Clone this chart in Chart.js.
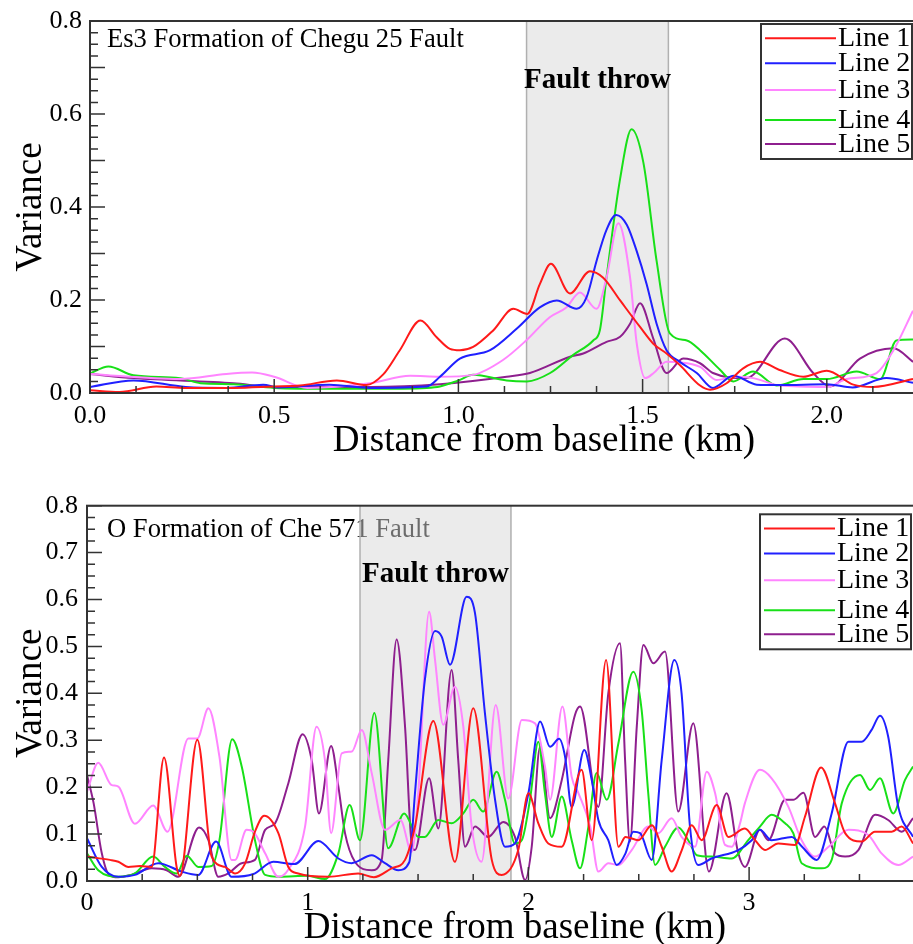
<!DOCTYPE html>
<html>
<head>
<meta charset="utf-8">
<script src="https://cdn.jsdelivr.net/npm/chart.js@4.4.0/dist/chart.umd.min.js"></script>
<style>
  html, body { margin: 0; padding: 0; background: #fff; overflow: hidden; width: 913px; height: 944px; }
  canvas { position: absolute; left: 0; }
  #esChart { top: 0; }
  #oChart { top: 470px; }
</style>
</head>
<body>
<canvas id="esChart" width="998" height="470"></canvas>
<canvas id="oChart" width="943" height="480"></canvas>
<script>
const lineNames = ['Line 1', 'Line 2', 'Line 3', 'Line 4', 'Line 5'];
const lineColors = ['#ff1a1a', '#2020ff', '#ff85ff', '#18e018', '#8e1f8e'];

// Es3 Formation of Chegu 25 Fault, [distance km, variance]
const esLine1 = [[0,.006],[.08,.002],[.18,.014],[.26,.011],[.39,.011],[.5,.014],[.57,.016],[.67,.027],[.75,.017],[.796,.04],[.841,.092],[.897,.156],[.941,.12],[.977,.095],[1.004,.092],[1.04,.099],[1.095,.135],[1.149,.181],[1.187,.170],[1.221,.234],[1.251,.278],[1.303,.214],[1.357,.262],[1.393,.248],[1.439,.199],[1.493,.142],[1.529,.106],[1.565,.085],[1.601,.06],[1.656,.016],[1.683,.007],[1.728,.021],[1.773,.053],[1.819,.067],[1.87,.05],[1.936,.035],[2.0,.048],[2.072,.018],[2.126,.013],[2.234,.030]];
const esLine2 = [[0,.013],[.118,.027],[.26,.013],[.37,.011],[.47,.018],[.51,.012],[.65,.018],[.76,.011],[.914,.014],[.95,.035],[1.004,.074],[1.086,.092],[1.158,.138],[1.221,.184],[1.267,.199],[1.321,.181],[1.348,.206],[1.375,.284],[1.402,.351],[1.428,.383],[1.457,.362],[1.484,.305],[1.511,.234],[1.538,.149],[1.565,.092],[1.601,.067],[1.647,.043],[1.691,.011],[1.746,.037],[1.81,.018],[1.873,.017],[2.0,.019],[2.07,.012],[2.162,.032],[2.234,.022]];
const esLine3 = [[0,.041],[.244,.030],[.37,.041],[.44,.044],[.5,.035],[.59,.011],[.76,.021],[.869,.037],[.95,.035],[1.04,.039],[1.121,.071],[1.184,.113],[1.248,.163],[1.293,.184],[1.33,.216],[1.375,.181],[1.402,.248],[1.434,.365],[1.466,.248],[1.484,.107],[1.507,.032],[1.53,.043],[1.565,.067],[1.601,.066],[1.656,.056],[1.701,.028],[1.75,.035],[1.8,.032],[1.873,.016],[2.0,.013],[2.054,.030],[2.135,.043],[2.181,.092],[2.234,.177]];
const esLine4 = [[0,.042],[.05,.057],[.118,.038],[.244,.032],[.30,.021],[.39,.019],[.50,.011],[.66,.009],[.76,.009],[.914,.011],[.95,.014],[1.0,.027],[1.04,.039],[1.131,.027],[1.186,.025],[1.249,.043],[1.312,.082],[1.366,.113],[1.384,.135],[1.402,.248],[1.439,.461],[1.47,.567],[1.502,.496],[1.538,.284],[1.574,.128],[1.62,.113],[1.656,.092],[1.71,.050],[1.746,.025],[1.8,.046],[1.864,.016],[1.937,.030],[2.0,.030],[2.081,.046],[2.145,.030],[2.189,.113],[2.234,.115]];
const esLine5 = [[0,.041],[.118,.032],[.39,.021],[.5,.013],[.76,.013],[.95,.019],[1.131,.035],[1.194,.043],[1.303,.078],[1.339,.085],[1.402,.110],[1.439,.121],[1.466,.149],[1.493,.193],[1.529,.117],[1.565,.043],[1.61,.074],[1.656,.064],[1.691,.043],[1.782,.032],[1.886,.117],[1.963,.043],[2.009,.014],[2.09,.074],[2.181,.096],[2.234,.067]];

// O Formation of Che 571 Fault, [distance km, variance]
const oLine1 = [[0,.052],[.104,.045],[.142,.041],[.187,.030],[.24,.032],[.293,.030],[.349,.263],[.406,.030],[.421,.011],[.5,.301],[.565,.052],[.625,.030],[.671,.016],[.716,.037],[.761,.105],[.803,.139],[.867,.102],[.912,.030],[.957,.016],[1.093,.009],[1.229,.016],[1.3,.008],[1.38,.027],[1.441,.045],[1.486,.116],[1.569,.341],[1.667,.041],[1.75,.368],[1.834,.045],[1.879,.013],[1.954,.066],[2.0,.187],[2.045,.123],[2.09,.080],[2.151,.073],[2.241,.237],[2.287,.087],[2.352,.471],[2.408,.073],[2.44,.094],[2.498,.087],[2.559,.119],[2.604,.073],[2.649,.020],[2.695,.066],[2.74,.119],[2.785,.087],[2.853,.162],[2.906,.094],[2.981,.112],[3.027,.087],[3.072,.066],[3.132,.080],[3.208,.077],[3.253,.137],[3.326,.242],[3.389,.166],[3.435,.102],[3.51,.084],[3.57,.105],[3.646,.105],[3.691,.116],[3.743,.080]];
const oLine2 = [[0,.091],[.067,.030],[.142,.009],[.217,.013],[.323,.038],[.429,.020],[.504,.013],[.585,.084],[.655,.009],[.754,.015],[.844,.041],[.94,.036],[1.048,.085],[1.139,.048],[1.199,.038],[1.29,.055],[1.35,.038],[1.411,.023],[1.46,.040],[1.486,.187],[1.531,.429],[1.577,.533],[1.607,.521],[1.645,.461],[1.72,.606],[1.758,.571],[1.803,.358],[1.849,.173],[1.894,.073],[1.939,.080],[2.0,.187],[2.053,.340],[2.098,.286],[2.139,.303],[2.166,.265],[2.196,.158],[2.253,.279],[2.287,.215],[2.317,.130],[2.362,.087],[2.40,.034],[2.44,.059],[2.475,.105],[2.506,.102],[2.559,.045],[2.604,.258],[2.661,.471],[2.694,.400],[2.732,.116],[2.77,.034],[2.83,.048],[2.951,.066],[3.012,.087],[3.049,.109],[3.102,.087],[3.193,.094],[3.24,.073],[3.306,.045],[3.374,.144],[3.45,.297],[3.51,.297],[3.555,.322],[3.593,.352],[3.63,.308],[3.676,.158],[3.743,.094]];
const oLine3 = [[0,.19],[.051,.252],[.11,.205],[.142,.201],[.217,.122],[.3,.161],[.365,.105],[.459,.304],[.50,.304],[.55,.368],[.60,.265],[.655,.045],[.671,.045],[.723,.109],[.754,.105],[.807,.059],[.867,.009],[.91,.023],[.988,.116],[1.04,.329],[1.078,.258],[1.106,.102],[1.154,.272],[1.20,.276],[1.245,.322],[1.29,.230],[1.35,.109],[1.42,.13],[1.471,.062],[1.501,.187],[1.55,.574],[1.577,.471],[1.614,.333],[1.667,.414],[1.705,.329],[1.743,.116],[1.788,.041],[1.852,.375],[1.909,.176],[1.97,.343],[2.03,.336],[2.075,.244],[2.098,.173],[2.154,.372],[2.196,.222],[2.227,.187],[2.28,.116],[2.317,.020],[2.362,.038],[2.407,.034],[2.468,.066],[2.543,.116],[2.588,.102],[2.649,.134],[2.694,.094],[2.755,.073],[2.808,.233],[2.846,.187],[2.891,.077],[2.921,.073],[2.959,.123],[2.981,.166],[3.049,.237],[3.102,.219],[3.178,.158],[3.238,.087],[3.299,.052],[3.36,.073],[3.45,.109],[3.54,.098],[3.6,.059],[3.676,.034],[3.743,.052]];
const oLine4 = [[0,.059],[.051,.023],[.142,.009],[.217,.016],[.3,.052],[.353,.030],[.406,.016],[.452,.054],[.504,.030],[.565,.032],[.60,.087],[.658,.302],[.701,.244],[.761,.087],[.807,.013],[.87,.009],[1.0,.011],[1.078,.004],[1.139,.059],[1.19,.162],[1.237,.087],[1.302,.358],[1.365,.070],[1.437,.144],[1.501,.094],[1.53,.094],[1.592,.130],[1.652,.123],[1.705,.144],[1.75,.173],[1.795,.148],[1.856,.233],[1.894,.173],[1.939,.080],[1.97,.087],[2.007,.173],[2.045,.297],[2.075,.187],[2.106,.094],[2.151,.180],[2.196,.087],[2.234,.027],[2.272,.116],[2.309,.230],[2.355,.173],[2.408,.294],[2.475,.446],[2.513,.365],[2.543,.187],[2.574,.034],[2.619,.073],[2.679,.114],[2.724,.087],[2.763,.055],[2.83,.052],[2.921,.048],[2.996,.087],[3.049,.116],[3.102,.141],[3.163,.123],[3.2,.102],[3.238,.038],[3.329,.027],[3.374,.045],[3.42,.166],[3.503,.226],[3.548,.194],[3.593,.219],[3.653,.144],[3.706,.215],[3.743,.244]];
const oLine5 = [[0,.226],[.03,.166],[.067,.059],[.10,.013],[.142,.008],[.20,.013],[.293,.027],[.361,.023],[.414,.009],[.508,.114],[.55,.087],[.595,.009],[.64,.016],[.701,.038],[.761,.045],[.807,.109],[.852,.123],[.912,.208],[.977,.313],[1.018,.258],[1.051,.144],[1.106,.288],[1.139,.201],[1.169,.102],[1.214,.041],[1.29,.023],[1.335,.045],[1.365,.258],[1.403,.515],[1.441,.329],[1.471,.080],[1.486,.066],[1.55,.219],[1.592,.112],[1.652,.450],[1.682,.258],[1.713,.073],[1.758,.116],[1.818,.094],[1.886,.126],[1.939,.094],[1.985,.002],[2.015,.073],[2.053,.286],[2.098,.134],[2.151,.215],[2.211,.354],[2.234,.372],[2.317,.158],[2.362,.400],[2.415,.507],[2.438,.258],[2.46,.084],[2.491,.329],[2.521,.503],[2.566,.464],[2.619,.489],[2.679,.148],[2.747,.336],[2.818,.020],[2.898,.187],[2.951,.059],[2.981,.030],[3.049,.109],[3.087,.087],[3.163,.173],[3.2,.173],[3.246,.188],[3.299,.094],[3.341,.116],[3.389,.059],[3.435,.052],[3.495,.066],[3.571,.141],[3.63,.130],[3.691,.105],[3.743,.134]];

// fault throw zones (km)
const esThrow = [1.185, 1.57];
const oThrow = [1.237, 1.921];

const tickFont = { family: 'Liberation Serif', size: 26, lineHeight: 1 };
const titleFont = { family: 'Liberation Serif', size: 37, lineHeight: 1 };
const legendRows = [14.3, 39.3, 66, 96, 120];

function isMajor(v, step) {
    const r = v / step;
    return Math.abs(r - Math.round(r)) < 1e-6;
}

const decor = {
    id: 'decor',
    beforeDatasetsDraw(chart, args, o) {
        const ctx = chart.ctx, a = chart.chartArea, x = chart.scales.x;
        ctx.save();
        ctx.fillStyle = '#000';
        ctx.font = '26.6px "Liberation Serif"';
        ctx.textAlign = 'left';
        ctx.textBaseline = 'alphabetic';
        ctx.fillText(o.note, 107, o.noteY);
        // shaded zone goes over the note, like the original
        const x0 = x.getPixelForValue(o.zone[0]);
        const x1 = x.getPixelForValue(o.zone[1]);
        ctx.fillStyle = 'rgba(215,215,215,0.5)';
        ctx.fillRect(x0, a.top, x1 - x0, a.bottom - a.top);
        ctx.strokeStyle = '#b0b0b0';
        ctx.lineWidth = 1.5;
        ctx.beginPath();
        ctx.moveTo(x0, a.top); ctx.lineTo(x0, a.bottom);
        ctx.moveTo(x1, a.top); ctx.lineTo(x1, a.bottom);
        ctx.stroke();
        ctx.restore();
    },
    afterDatasetsDraw(chart, args, o) {
        const ctx = chart.ctx, a = chart.chartArea;
        const x = chart.scales.x, y = chart.scales.y;
        ctx.save();
        const x0 = x.getPixelForValue(o.zone[0]);
        const x1 = x.getPixelForValue(o.zone[1]);
        ctx.fillStyle = '#000';
        ctx.font = 'bold 29px "Liberation Serif"';
        ctx.textAlign = 'center';
        ctx.textBaseline = 'alphabetic';
        ctx.fillText('Fault throw', (x0 + x1) / 2, o.throwY);

        // frame + inward ticks
        ctx.strokeStyle = '#333';
        ctx.lineWidth = 2;
        ctx.strokeRect(a.left, a.top, a.right - a.left, a.bottom - a.top);
        ctx.lineWidth = 1.5;
        ctx.beginPath();
        for (let i = 1; i * o.xMinor <= x.max + 1e-9; i++) {
            const v = i * o.xMinor;
            const px = x.getPixelForValue(v);
            const len = isMajor(v, o.xMajor) ? 14 : 7;
            ctx.moveTo(px, a.bottom); ctx.lineTo(px, a.bottom - len);
        }
        for (let i = 1; i * o.yMinor <= y.max + 1e-9; i++) {
            const v = i * o.yMinor;
            const py = y.getPixelForValue(v);
            const len = isMajor(v, o.yMajor) ? 15 : 8;
            ctx.moveTo(a.left, py); ctx.lineTo(a.left + len, py);
        }
        ctx.stroke();

        // legend box
        const lx = o.legendLeft, lt = o.legendTop;
        ctx.fillStyle = '#fff';
        ctx.fillRect(lx, lt, 151, 135);
        ctx.strokeStyle = '#333';
        ctx.lineWidth = 2;
        ctx.strokeRect(lx, lt, 151, 135);
        ctx.font = '28px "Liberation Serif"';
        ctx.textAlign = 'left';
        ctx.textBaseline = 'middle';
        chart.data.datasets.forEach((ds, i) => {
            const ry = lt + legendRows[i];
            ctx.strokeStyle = ds.borderColor;
            ctx.lineWidth = 2;
            ctx.beginPath();
            ctx.moveTo(lx + 4, ry); ctx.lineTo(lx + 75, ry);
            ctx.stroke();
            ctx.fillStyle = '#000';
            ctx.fillText(ds.label, lx + 77, ry + 0.5);
        });
        ctx.restore();
    }
};

function panel(id, lines, p) {
    return new Chart(document.getElementById(id), {
        type: 'line',
        data: {
            datasets: lines.map((pts, i) => ({
                label: lineNames[i],
                data: pts.map(d => ({ x: d[0], y: d[1] })),
                borderColor: lineColors[i],
                borderWidth: 2,
                pointRadius: 0,
                tension: 0.4,
                cubicInterpolationMode: 'monotone',
                fill: false
            }))
        },
        options: {
            responsive: false,
            animation: false,
            devicePixelRatio: 1,
            events: [],
            layout: { padding: { top: p.padTop, left: 0, right: 0, bottom: 0 } },
            scales: {
                x: {
                    type: 'linear',
                    min: 0,
                    max: p.xMax,
                    afterFit: s => { s.height = p.xHeight; },
                    grid: { display: false, drawTicks: false },
                    border: { display: false },
                    ticks: {
                        stepSize: p.xStep,
                        includeBounds: false,
                        maxRotation: 0,
                        autoSkip: false,
                        padding: p.xPad,
                        color: '#000',
                        font: tickFont,
                        callback: v => v.toFixed(p.xDigits)
                    },
                    title: {
                        display: true,
                        text: 'Distance from baseline (km)',
                        color: '#000',
                        font: titleFont,
                        padding: { top: 0, bottom: p.titleBottom }
                    }
                },
                y: {
                    type: 'linear',
                    min: 0,
                    max: 0.8,
                    afterFit: s => { s.width = p.yWidth; },
                    grid: { display: false, drawTicks: false },
                    border: { display: false },
                    ticks: {
                        stepSize: p.yStep,
                        padding: p.yPad,
                        color: '#000',
                        font: tickFont,
                        callback: v => v.toFixed(1)
                    },
                    title: {
                        display: true,
                        text: 'Variance',
                        color: '#000',
                        font: titleFont,
                        padding: { top: 12.5, bottom: 0 }
                    }
                }
            },
            plugins: {
                legend: { display: false },
                tooltip: { enabled: false },
                decor: p
            }
        },
        plugins: [decor]
    });
}

panel('esChart', [esLine1, esLine2, esLine3, esLine4, esLine5], {
    padTop: 17, xMax: 2.4647, xHeight: 77, xStep: 0.5, xPad: 10, xDigits: 1, titleBottom: 10,
    yWidth: 90, yStep: 0.2, yPad: 8,
    xMinor: 0.125, xMajor: 0.5, yMinor: 0.025, yMajor: 0.1,
    note: 'Es3 Formation of Chegu 25 Fault', noteY: 47.3,
    zone: esThrow, throwY: 88.3,
    legendLeft: 761, legendTop: 24
});

panel('oChart', [oLine1, oLine2, oLine3, oLine4, oLine5], {
    padTop: 35.7, xMax: 3.8785, xHeight: 69, xStep: 1, xPad: 9, xDigits: 0, titleBottom: 3,
    yWidth: 87, yStep: 0.1, yPad: 9,
    xMinor: 0.25, xMajor: 1, yMinor: 0.025, yMajor: 0.1,
    note: 'O Formation of Che 571 Fault', noteY: 67.3,
    zone: oThrow, throwY: 111.7,
    legendLeft: 760, legendTop: 44.3
});
</script>
</body>
</html>
